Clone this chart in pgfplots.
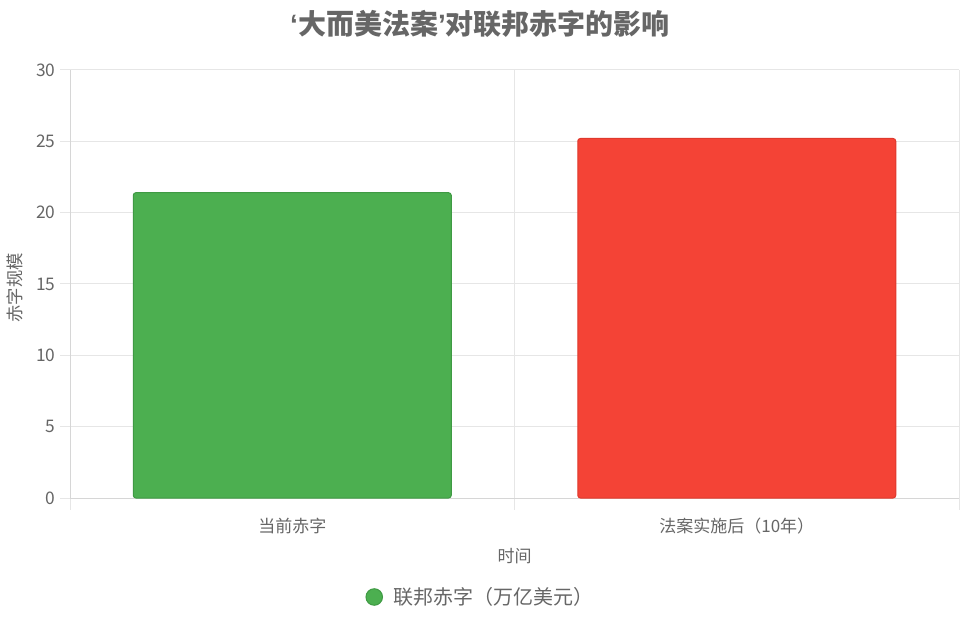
\documentclass[border=0pt]{standalone}
\usepackage{pgfplots}
\pgfplotsset{compat=1.18}
\usepackage{fontspec}
\setmainfont{Noto Sans CJK SC}
\newfontfamily\latin{Liberation Sans}

\definecolor{txt}{HTML}{666666}
\definecolor{gridc}{HTML}{E6E6E6}
\definecolor{axisc}{HTML}{D6D6D6}
\definecolor{barg}{HTML}{4CAF50}
\definecolor{bargd}{HTML}{3F9A44}
\definecolor{barr}{HTML}{F44336}
\definecolor{barrd}{HTML}{E0392D}

\begin{document}
\begin{tikzpicture}
\path[use as bounding box] (0,0) rectangle (720pt,465.75pt);
\begin{axis}[
    at={(52.5pt,92.25pt)}, anchor=south west,
    scale only axis,
    width=666.75pt, height=321pt,
    xmin=-0.5, xmax=1.5,
    ymin=0, ymax=30,
    ytick={0,5,...,30},
    xtick={0,1},
    xticklabels={当前赤字,法案实施后（10年）},
    minor xtick={-0.5,0.5,1.5},
    xminorgrids=true, ymajorgrids=true,
    grid style={gridc, line width=0.75pt},
    minor grid style={gridc, line width=0.75pt},
    axis lines*=left,
    axis line style={axisc, line width=0.75pt},
    tick align=outside,
    major tick length=7.5pt,
    minor tick length=9pt,
    tick style={gridc, line width=0.75pt},
    major x tick style={draw=none},
    /pgf/number format/assume math mode=true,
    yticklabel style={font=\fontsize{13}{15}\selectfont, text=txt},
    xticklabel style={font=\fontsize{12.75}{15}\selectfont, text=txt, yshift=-4pt},
    title={{\latin ‘}大而美法案{\latin ’}对联邦赤字的影响},
    every axis title/.style={at={(rel axis cs:0.4612,1.1075)}, anchor=center,
        font=\fontsize{21}{25}\selectfont\bfseries, text=txt},
    xlabel={时间},
    xlabel style={at={(axis description cs:0.5,-0.1355)}, anchor=center,
        font=\fontsize{12.75}{15}\selectfont, text=txt},
    ylabel={赤字规模},
    ylabel style={at={(axis description cs:-0.0619,0.4907)}, anchor=center,
        font=\fontsize{13}{15}\selectfont, text=txt},
    legend style={at={(axis description cs:0.4595,-0.2313)}, anchor=center,
        draw=none, fill=none, font=\fontsize{15}{18}\selectfont, text=txt},
    legend image code/.code={
        \path[draw=none, fill=none] (0pt,0pt) -- (22pt,0pt);
        \draw[bargd, fill=barg, line width=0.75pt] (9.8pt,0pt) circle (6.2pt);
    },
]
\addplot[ybar, bar width=238.5pt, bar shift=0pt, fill=barg, draw=bargd,
    line width=0.75pt, rounded corners=2pt]
    coordinates {(0,21.4)};
\addlegendentry{联邦赤字（万亿美元）}
\addplot[ybar, bar width=238.5pt, bar shift=0pt, fill=barr, draw=barrd,
    line width=0.75pt, rounded corners=2pt, forget plot]
    coordinates {(1,25.2)};
\end{axis}
\end{tikzpicture}
\end{document}
